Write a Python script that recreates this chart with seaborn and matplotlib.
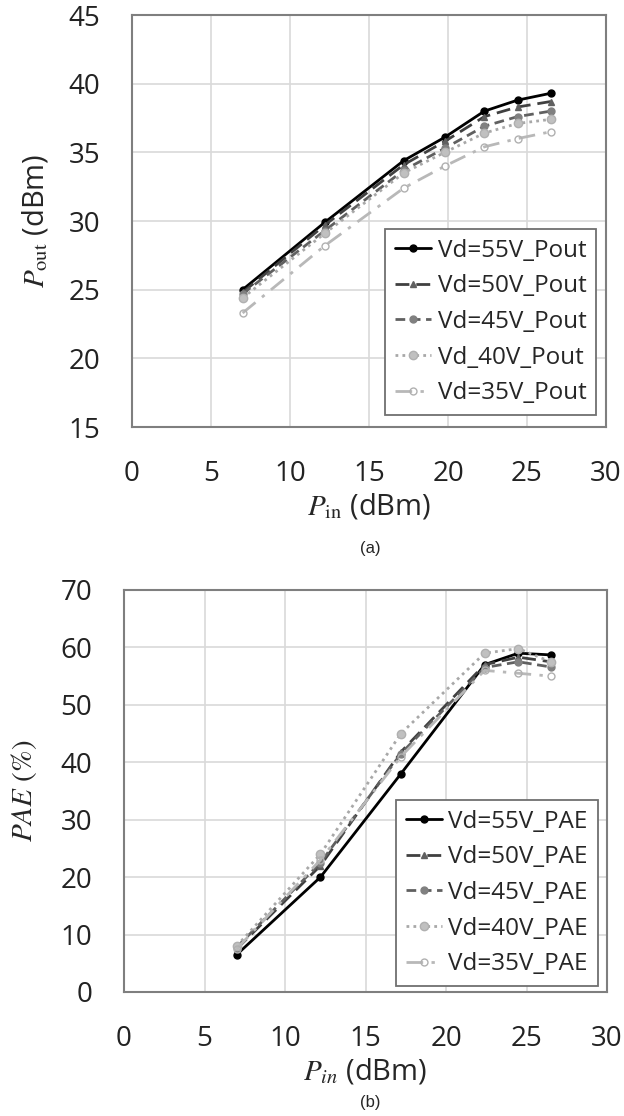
import matplotlib
matplotlib.use("Agg")
import matplotlib.pyplot as plt
import seaborn as sns
import pandas as pd

# ---------------- data ----------------
pin_a = [7.0, 12.2, 17.2, 19.8, 22.3, 24.4, 26.5]
pout_55 = [25.0, 29.9, 34.4, 36.1, 38.0, 38.8, 39.3]
pout_50 = [24.8, 29.7, 34.1, 35.8, 37.6, 38.3, 38.7]
pout_45 = [24.7, 29.3, 33.7, 35.3, 36.9, 37.6, 38.0]
pout_40 = [24.4, 29.1, 33.5, 35.0, 36.4, 37.1, 37.4]
pout_35 = [23.3, 28.2, 32.4, 34.0, 35.4, 36.0, 36.5]

pin_b = [7.0, 12.2, 17.2, 22.4, 24.5, 26.5]
pae_55 = [6.5, 20.0, 38.0, 57.0, 59.0, 58.7]
pae_50 = [7.5, 22.0, 41.8, 57.0, 58.3, 57.5]
pae_45 = [7.8, 22.5, 41.5, 56.5, 57.5, 56.6]
pae_40 = [8.0, 24.0, 45.0, 59.0, 59.8, 57.5]
pae_35 = [7.5, 23.0, 41.0, 56.0, 55.5, 55.0]

labels_a = ["Vd=55V_Pout", "Vd=50V_Pout", "Vd=45V_Pout", "Vd_40V_Pout", "Vd=35V_Pout"]
labels_b = ["Vd=55V_PAE", "Vd=50V_PAE", "Vd=45V_PAE", "Vd=40V_PAE", "Vd=35V_PAE"]
x_ticks = [0, 5, 10, 15, 20, 25, 30]
y_ticks_a = [15, 20, 25, 30, 35, 40, 45]
y_ticks_b = [0, 10, 20, 30, 40, 50, 60, 70]

# ---------------- style ----------------
sns.set_style("whitegrid")
plt.rcParams['font.family'] = ['Open Sans', 'DejaVu Sans']
plt.rcParams['mathtext.fontset'] = 'stix'

styles = [
    dict(color="#000000", ls='-', marker='o', ms=5, mfc="#000000", mec="#000000"),
    dict(color="#404040", ls=(0, (5, 2.5)), marker='^', ms=5, mfc="#606060", mec="#606060"),
    dict(color="#606060", ls=(0, (3.5, 2)), marker='o', ms=5, mfc="#808080", mec="#808080"),
    dict(color="#a8a8a8", ls=(0, (1, 1.5)), marker='o', ms=6, mfc="#c0c0c0", mec="#b0b0b0"),
    dict(color="#b8b8b8", ls=(0, (6, 3, 1.2, 3)), marker='o', ms=5, mfc="none", mec="#b0b0b0"),
]

fig = plt.figure(figsize=(6.24, 11.16), dpi=100)
ax1 = fig.add_axes([132 / 624, 1 - 427 / 1116, 474 / 624, 412 / 1116])
ax2 = fig.add_axes([124 / 624, 1 - 992 / 1116, 483 / 624, 402 / 1116])


def draw(ax, xs, series, labels):
    for ys, lab, st in zip(series, labels, styles):
        df = pd.DataFrame({"x": xs, "y": ys})
        sns.lineplot(data=df, x="x", y="y", ax=ax, color=st["color"], lw=2,
                     marker=st["marker"], markersize=st["ms"],
                     markerfacecolor=st["mfc"], markeredgecolor=st["mec"],
                     markeredgewidth=1, label=lab, sort=False)
        ax.lines[-1].set_linestyle(st["ls"])


draw(ax1, pin_a, [pout_55, pout_50, pout_45, pout_40, pout_35], labels_a)
draw(ax2, pin_b, [pae_55, pae_50, pae_45, pae_40, pae_35], labels_b)

for ax, yt in ((ax1, y_ticks_a), (ax2, y_ticks_b)):
    ax.set_xlim(0, 30)
    ax.set_ylim(yt[0], yt[-1])
    ax.set_xticks(x_ticks)
    ax.set_yticks(yt)
    ax.tick_params(axis='both', length=0, labelsize=20, colors="#222222")
    ax.tick_params(axis='x', pad=24)
    ax.tick_params(axis='y', pad=23)
    ax.grid(True, color="#d9d9d9", lw=1.2)
    for sp in ax.spines.values():
        sp.set_color("#7f7f7f")
        sp.set_linewidth(1.5)

ax1.set_xlabel(r"$P_{\rm in}$ (dBm)", fontsize=21)
ax1.set_ylabel(r"$P_{\rm out}$ (dBm)", fontsize=21)
ax2.set_xlabel(r"$P_{in}$ (dBm)", fontsize=21)
ax2.set_ylabel(r"$PAE$ $(\%)$", fontsize=21)

for ax, yc in ((ax1, -0.194), (ax2, -0.199)):
    ax.xaxis.label.set_verticalalignment('center')
    ax.xaxis.set_label_coords(0.5, yc)
for ax, xc in ((ax1, (35 - 132) / 474), (ax2, (24 - 124) / 483)):
    ax.yaxis.label.set_verticalalignment('center')
    ax.yaxis.set_label_coords(xc, 0.5)

leg_kw = dict(loc='lower right', fontsize=17.5, frameon=True, fancybox=False,
              edgecolor="#707070", framealpha=1, handlelength=1.5,
              handletextpad=0.25, labelspacing=0.48, borderpad=0.4, borderaxespad=0)
l1 = ax1.legend(bbox_to_anchor=(0.979, 0.029), **leg_kw)
l2 = ax2.legend(bbox_to_anchor=(0.981, 0.015), **leg_kw)
for lg in (l1, l2):
    lg.get_frame().set_linewidth(1.3)
    for h, st in zip(lg.get_lines(), styles):
        h.set_linestyle(st["ls"])

fig.text(370 / 624, 1 - 548 / 1116, "(a)", ha='center', va='center', fontsize=12,
         family=['Liberation Sans', 'DejaVu Sans'])
fig.text(370 / 624, 1 - 1102 / 1116, "(b)", ha='center', va='center', fontsize=12,
         family=['Liberation Sans', 'DejaVu Sans'])

fig.savefig("out.png", dpi=100)
